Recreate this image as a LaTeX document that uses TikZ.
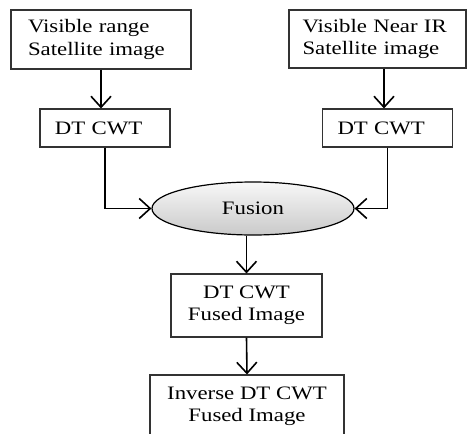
\documentclass[tikz,border=0pt]{standalone}
\usepackage{fontspec}
\setmainfont[FakeStretch=1.2]{Liberation Serif}
\usepackage{tikz}
\usetikzlibrary{arrows.meta,positioning,shapes.geometric}
\tikzset{font=\fontsize{19}{22.5}\selectfont}
\tikzstyle{srcbox}=[rectangle,draw=black!80,line width=1.1pt,align=left,inner ysep=0pt]
\tikzstyle{cwtbox}=[rectangle,draw=black!80,line width=1.1pt,align=left,text width=100pt,inner xsep=15pt,minimum height=38pt]
\tikzstyle{outbox}=[rectangle,draw=black!80,line width=1.1pt,align=center,minimum height=63pt]
\tikzstyle{fuse}=[ellipse,draw=black,line width=1.2pt,top color=gray!6,bottom color=gray!42,minimum width=202pt,minimum height=53pt,inner sep=0pt]
\tikzstyle{flow}=[line width=1.6pt,-{Straight Barb[length=11pt,width=20pt]}]

\begin{document}
\begin{tikzpicture}[x=1pt,y=-1pt]
  \useasboundingbox (0,0) rectangle (467,434);
  % inputs
  \node[srcbox,text width=146pt,inner xsep=17pt,minimum height=59pt] (vis) at (101,39.5) {Visible range\\Satellite image};
  \node[srcbox,text width=150pt,inner xsep=13.5pt,minimum height=58pt] (nir) at (377.5,39) {Visible Near IR\\Satellite image};
  % transforms
  \node[cwtbox] (dtl) at (105,128) {DT CWT};
  \node[cwtbox] (dtr) at (387.5,128) {DT CWT};
  % fusion and output
  \node[fuse] (fus) at (253,208.5) {Fusion};
  \node[outbox,minimum width=151pt] (fsd) at (246.5,305.5) {DT CWT\\Fused Image};
  \node[outbox,minimum width=194pt] (inv) at (247,406.5) {Inverse DT CWT\\Fused Image};
  \draw[flow] (vis.south) -- (vis.south |- dtl.north);
  \draw[flow] ([xshift=-3.5pt]dtr.north |- nir.south) -- ([xshift=-3.5pt]dtr.north);
  \draw[flow] (dtl.south) |- (fus.west);
  \draw[flow] (dtr.south) |- (fus.east);
  \draw[flow] (fsd.north |- fus.south) -- (fsd.north);
  \draw[flow] (fsd.south) -- (inv.north);
\end{tikzpicture}
\end{document}
